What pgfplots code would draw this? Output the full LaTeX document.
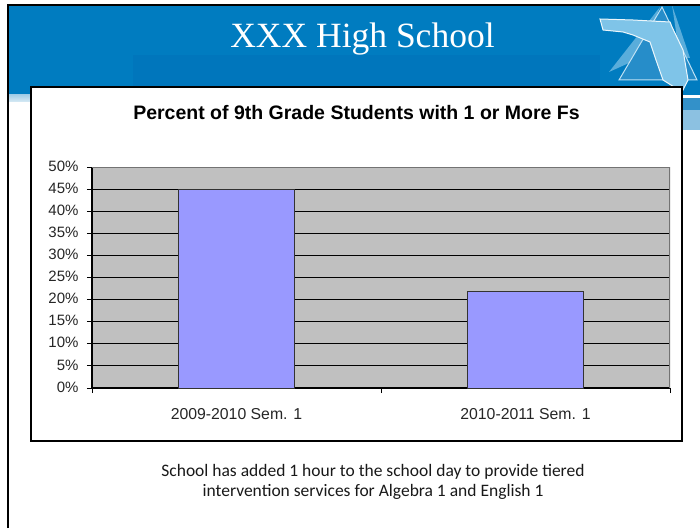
\documentclass[border=0pt]{standalone}
\usepackage{fontspec}
\setmainfont{Liberation Sans}
\newfontfamily\serifx{Liberation Serif}
\newfontfamily\calib{Carlito}
\usepackage{pgfplots}
\pgfplotsset{compat=1.18}
\definecolor{hdr}{HTML}{0076BC}
\definecolor{hdrlight}{HTML}{007CC0}
\definecolor{pale}{HTML}{7FC4E8}
\definecolor{barfill}{HTML}{9999FF}
\definecolor{plotbg}{HTML}{C0C0C0}
\begin{document}
\begin{tikzpicture}[x=1pt,y=1pt]
\path[use as bounding box] (0,0) rectangle (700,528);
\fill[white] (0,0) rectangle (700,528);
% header
\fill[hdrlight] (8,433) rectangle (700,523);
\fill[hdr] (133,433) rectangle (600,473);
\fill[top color=hdr!35,bottom color=hdr!15] (8,426) rectangle (32,433);
\fill[hdr!80] (682,430) rectangle (700,418);
\fill[hdr!45] (682,418) rectangle (700,398);
% logo
\fill[pale!70!hdr] (609,456) -- (660,521) -- (640,470) -- cycle;
\fill[pale!70!hdr] (672,523) -- (690,470) -- (680,470) -- cycle;
\draw[pale!50!white,line width=1pt,fill=hdr!70!pale] (619,448) -- (662,521) -- (697,448) -- cycle;
\draw[white!85!pale,line width=1pt,fill=pale] (600,509) -- (603,498) -- (623,496) -- (633,493) -- (650,486)
  -- (656,468) -- (663,448) -- (682,436) -- (688,448) -- (683,478) -- (672,501) -- (670,506) -- (633,508) -- cycle;
% frames
\draw[black,line width=1.2pt] (8,0) -- (8,523) -- (700,523);
\draw[black,line width=1.2pt,fill=white] (31,87) rectangle (682,441);
% texts
\node[text=white,font=\serifx\fontsize{35.5}{40}\selectfont] at (362.5,489) {XXX High School};
\node[font=\bfseries\fontsize{19.5}{23}\selectfont] at (356.5,415) {Percent of 9th Grade Students with 1 or More Fs};
\node[font=\calib\fontsize{17.5}{20}\selectfont,align=center,text=black!90] at (373,46) {School has added 1 hour to the school day to provide tiered\\intervention services for Algebra 1 and English 1};
\begin{axis}[
  at={(92pt,140pt)},anchor=south west,
  scale only axis,width=578pt,height=221pt,
  xmin=-0.5,xmax=1.5,ymin=0,ymax=50,
  axis background/.style={fill=plotbg},
  axis x line*=bottom,axis y line*=left,
  axis line style={line width=1.1pt,black,-},
  ytick={0,5,...,50},
  yticklabel={\pgfmathprintnumber{\tick}\%},
  /pgf/number format/assume math mode=true,
  xtick={0,1},
  xticklabels={2009-2010 Sem. 1,2010-2011 Sem. 1},
  minor xtick={-0.5,0.5,1.5},
  major x tick style={draw=none},
  minor x tick style={black,line width=0.9pt},
  minor tick length=5pt,
  major tick length=5pt,
  tick align=outside,
  tick style={black,line width=0.9pt},
  ymajorgrids,
  grid style={black,line width=1pt},
  tick label style={font=\fontsize{15}{17}\selectfont,text=black!85},
  xticklabel style={font=\fontsize{15.8}{18}\selectfont,yshift=-12pt},
  yticklabel style={xshift=-5pt,yshift=1pt},
]
\addplot[ybar,bar width=116pt,fill=barfill,draw=black!80!white,line width=1pt] coordinates {(0,45) (1,21.8)};
\draw[black!55,line width=1.1pt] (axis cs:-0.5,50) -- (axis cs:1.5,50) -- (axis cs:1.5,0);
\end{axis}
\end{tikzpicture}
\end{document}
